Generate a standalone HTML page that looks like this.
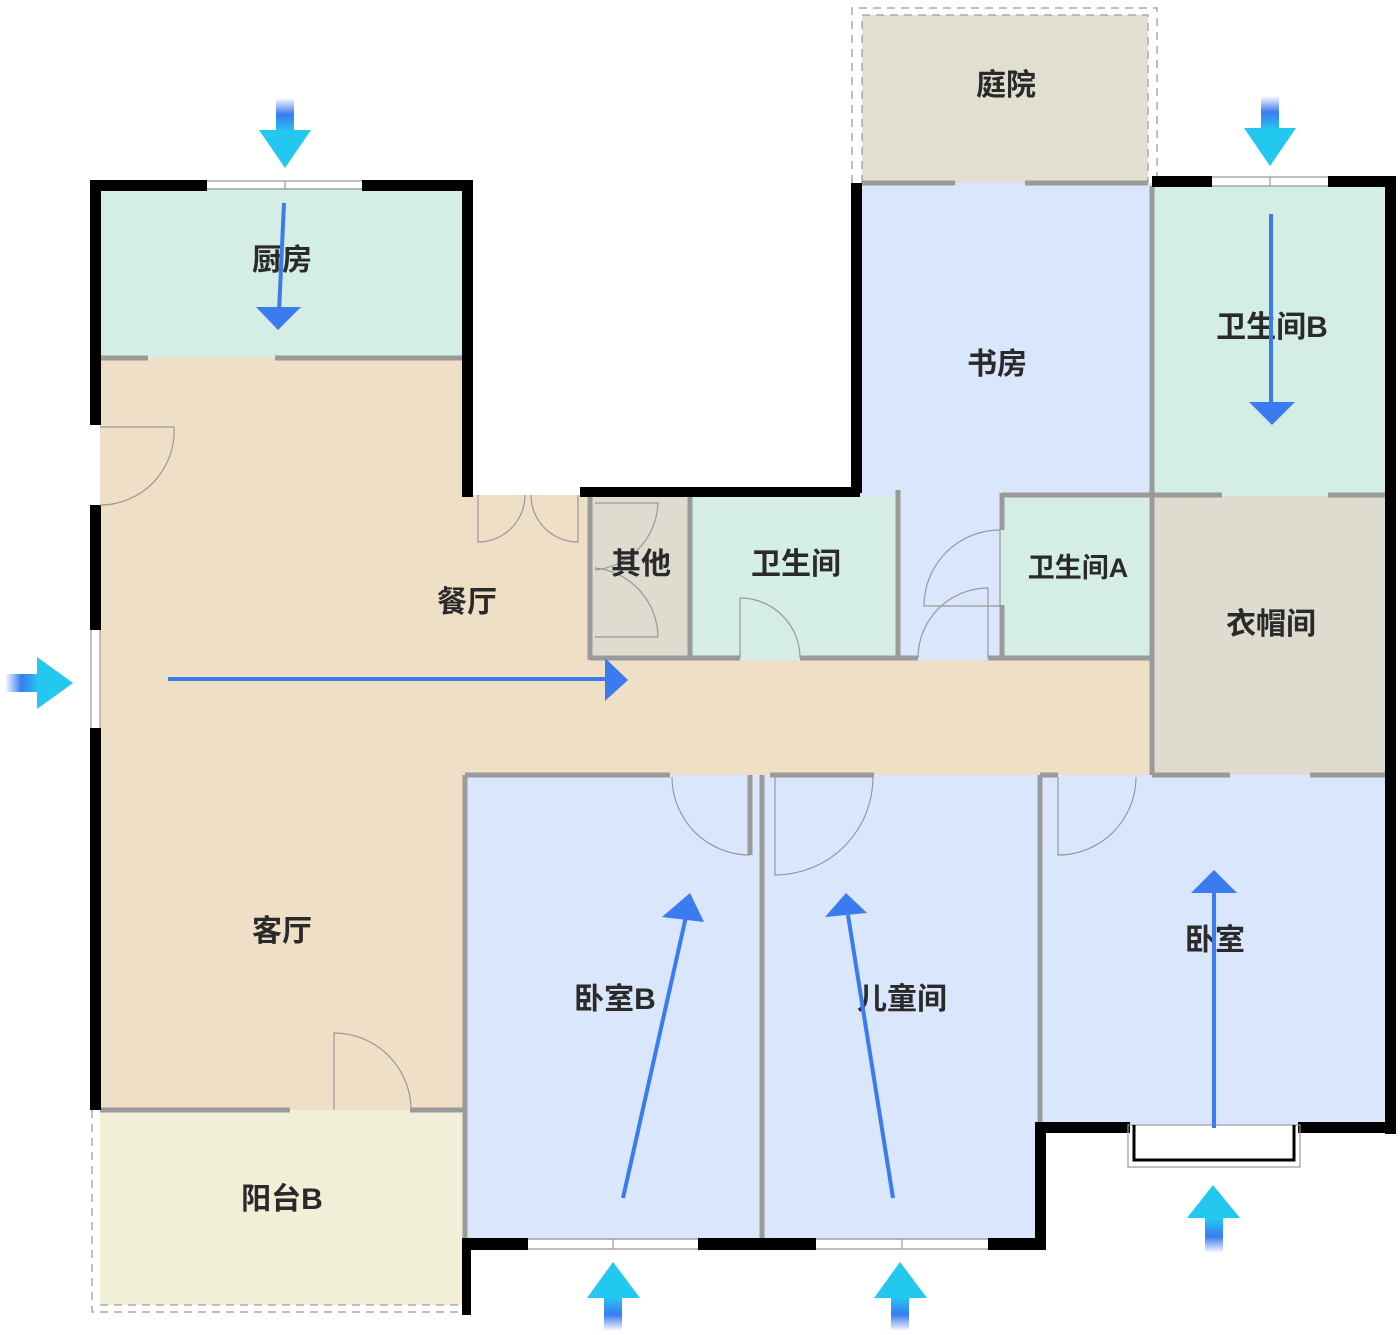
<!DOCTYPE html>
<html><head><meta charset="utf-8"><style>
html,body{margin:0;padding:0;background:#fff;}
svg{display:block}
text{font-family:"Liberation Sans","Noto Sans CJK SC",sans-serif;font-size:30px;font-weight:bold;fill:#2a2a2a;text-anchor:middle;dominant-baseline:middle}
</style></head><body>
<svg width="1400" height="1335" viewBox="0 0 1400 1335" xmlns="http://www.w3.org/2000/svg">
<defs>
<linearGradient id="gd" x1="0" y1="0" x2="0" y2="1"><stop offset="0" stop-color="#3a7bf0" stop-opacity="0"/><stop offset="0.45" stop-color="#3a7bf0"/><stop offset="1" stop-color="#22d0f0"/></linearGradient>
<linearGradient id="gu" x1="0" y1="1" x2="0" y2="0"><stop offset="0" stop-color="#3a7bf0" stop-opacity="0"/><stop offset="0.45" stop-color="#3a7bf0"/><stop offset="1" stop-color="#22d0f0"/></linearGradient>
<linearGradient id="gr" x1="0" y1="0" x2="1" y2="0"><stop offset="0" stop-color="#3a7bf0" stop-opacity="0"/><stop offset="0.45" stop-color="#3a7bf0"/><stop offset="1" stop-color="#22d0f0"/></linearGradient>
</defs>
<!-- fills -->
<rect x="862" y="15" width="286" height="168" fill="#e1dfd0"/>
<rect x="860" y="183" width="292" height="477" fill="#d9e6fb"/>
<rect x="100" y="188" width="365" height="170" fill="#d4ede5"/>
<rect x="100" y="358" width="365" height="752" fill="#f0dfc7"/>
<rect x="465" y="495" width="125" height="170" fill="#f0dfc7"/>
<rect x="465" y="660" width="690" height="115" fill="#f0dfc7"/>
<rect x="590" y="497" width="100" height="163" fill="#dedbcf"/>
<rect x="690" y="497" width="208" height="163" fill="#d4ede5"/>
<rect x="1002" y="497" width="150" height="163" fill="#d4ede5"/>
<rect x="1152" y="186" width="236" height="310" fill="#d4ede5"/>
<rect x="1152" y="496" width="236" height="279" fill="#dedbcf"/>
<rect x="465" y="775" width="298" height="465" fill="#d9e6fb"/>
<rect x="763" y="775" width="275" height="465" fill="#d9e6fb"/>
<rect x="1040" y="775" width="348" height="350" fill="#d9e6fb"/>
<rect x="100" y="1110" width="365" height="195" fill="#f2efd9"/>
<!-- dashed borders -->
<g fill="none" stroke="#aaa" stroke-width="1.5" stroke-dasharray="8,6">
<path d="M852 183 V8 H1157 V183"/><path d="M862 183 V15 H1148 V183"/>
<path d="M92 1110 V1312 H465"/><path d="M100 1305 H465"/>
</g>
<!-- gray interior walls -->
<g stroke="#9a9a9a" stroke-width="5" fill="none">
<path d="M100 358 H148 M275 358 H465"/>
<path d="M590 497 V660 M690 497 V660 M898 490 V660 M1002 493 V530 M1002 605 V660"/>
<path d="M590 658 H740 M800 658 H918 M988 658 H1150"/>
<path d="M1002 495 H1152 M1152 186 V775 M1152 495 H1222 M1328 495 H1388"/>
<path d="M1152 775 H1230 M1310 775 H1388"/>
<path d="M465 775 H670 M750 775 V855 M762 775 V1245 M770 775 H874 M1040 775 V1125 M1040 775 H1058"/>
<path d="M100 1110 H290 M410 1110 H465 M465 775 V1240"/>
<path d="M862 183 H955 M1025 183 H1148"/>
</g>
<!-- black walls -->
<g fill="#000">
<rect x="90" y="180" width="117" height="11"/><rect x="362" y="180" width="110" height="11"/>
<rect x="90" y="180" width="11" height="245"/><rect x="90" y="505" width="11" height="125"/><rect x="90" y="728" width="11" height="382"/>
<rect x="462" y="180" width="11" height="317"/>
<rect x="580" y="487" width="280" height="10"/>
<rect x="851" y="183" width="11" height="310"/>
<rect x="1152" y="176" width="60" height="11"/><rect x="1328" y="176" width="68" height="11"/>
<rect x="1385" y="176" width="11" height="958"/>
<rect x="1040" y="1122" width="90" height="11"/><rect x="1298" y="1122" width="98" height="11"/>
<rect x="1035" y="1122" width="11" height="128"/>
<rect x="462" y="1238" width="66" height="12"/><rect x="698" y="1238" width="118" height="12"/><rect x="988" y="1238" width="58" height="12"/>
<rect x="462" y="1240" width="9" height="75"/>
</g>
<!-- windows -->
<g stroke="#999" stroke-width="1.2" fill="none">
<path d="M207 181 H362 M207 189 H362 M285 181 V189"/>
<path d="M1212 177 H1328 M1212 186 H1328 M1270 177 V186"/>
<path d="M528 1239 H698 M528 1249 H698 M613 1239 V1249"/>
<path d="M816 1239 H988 M816 1249 H988 M902 1239 V1249"/>
<path d="M91 630 V728 M100 630 V728"/>
<rect x="1128" y="1125" width="172" height="42"/>
</g>
<path d="M1134 1125 V1160 H1294 V1125" stroke="#000" stroke-width="3" fill="none"/>
<!-- doors -->
<g stroke="#999" stroke-width="1.2" fill="none">
<path d="M100 427 H174 A74 74 0 0 1 100 505"/>
<path d="M478 495 V542 A47 47 0 0 0 525 495 M578 495 V542 A47 47 0 0 1 531 495"/>
<path d="M595 503 H658 A70 70 0 0 1 595 570 M595 637 H658 A70 70 0 0 0 595 568"/>
<path d="M740 598 V658 M740 598 A60 60 0 0 1 800 658"/>
<path d="M1000 530 V606 H924 A76 76 0 0 1 1000 530"/>
<path d="M988 588 V658 M988 588 A70 70 0 0 0 918 658"/>
<path d="M750 855 A78 78 0 0 1 672 777"/>
<path d="M775 777 V875 A98 98 0 0 0 873 777"/>
<path d="M1058 777 V855 A78 78 0 0 0 1136 777"/>
<path d="M334 1110 V1033 A77 77 0 0 1 411 1110"/>
</g>
<!-- labels -->
<text x="1006" y="87">庭院</text>
<text x="282" y="262">厨房</text>
<text x="997" y="366">书房</text>
<text x="1272" y="329">卫生间B</text>
<text x="467" y="604">餐厅</text>
<text x="641" y="566">其他</text>
<text x="796" y="566">卫生间</text>
<text x="1078" y="570" style="font-size:27px">卫生间A</text>
<text x="1271" y="626">衣帽间</text>
<text x="282" y="933">客厅</text>
<text x="615" y="1001">卧室B</text>
<text x="902" y="1001">儿童间</text>
<text x="1215" y="942">卧室</text>
<text x="282" y="1201">阳台B</text>
<!-- interior airflow arrows -->
<g stroke="#3a7bf0" stroke-width="4" fill="#3a7bf0">
<line x1="284" y1="203" x2="279" y2="312"/><polygon stroke="none" points="256,307 301,307 278,330"/>
<line x1="1271" y1="214" x2="1271" y2="405"/><polygon stroke="none" points="1249,402 1295,402 1272,425"/>
<line x1="168" y1="679" x2="610" y2="679"/><polygon stroke="none" points="605,658 628,680 605,701"/>
<line x1="623" y1="1198" x2="687" y2="912"/><polygon stroke="none" points="662,917 704,922 690,893"/>
<line x1="893" y1="1198" x2="848" y2="915"/><polygon stroke="none" points="825,917 867,913 846,893"/>
<line x1="1214" y1="1128" x2="1214" y2="890"/><polygon stroke="none" points="1191,893 1237,893 1214,870"/>
</g>
<!-- exterior arrows -->
<rect x="276" y="98" width="18" height="36" fill="url(#gd)"/><polygon points="259,130 311,130 285,168" fill="#22c8f0"/>
<rect x="1261" y="96" width="18" height="36" fill="url(#gd)"/><polygon points="1244,128 1296,128 1270,166" fill="#22c8f0"/>
<rect x="5" y="674" width="36" height="18" fill="url(#gr)"/><polygon points="37,657 37,709 73,683" fill="#22c8f0"/>
<rect x="1205" y="1217" width="18" height="36" fill="url(#gu)"/><polygon points="1187,1218 1240,1218 1213,1185" fill="#22c8f0"/>
<rect x="604" y="1295" width="18" height="36" fill="url(#gu)"/><polygon points="587,1298 640,1298 613,1262" fill="#22c8f0"/>
<rect x="891" y="1295" width="18" height="36" fill="url(#gu)"/><polygon points="874,1298 927,1298 900,1262" fill="#22c8f0"/>
</svg>
</body></html>
